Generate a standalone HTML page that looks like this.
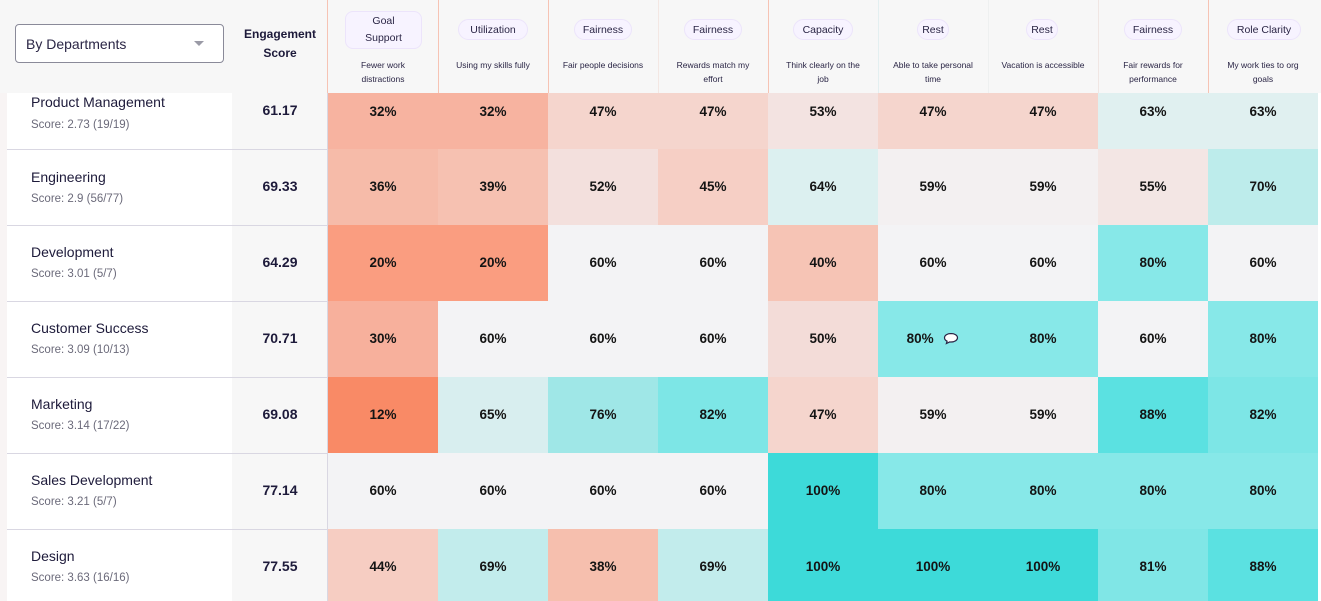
<!DOCTYPE html>
<html><head><meta charset="utf-8"><style>
*{margin:0;padding:0;box-sizing:border-box}
html,body{width:1321px;height:601px;overflow:hidden}
body{background:#fff;font-family:"Liberation Sans",sans-serif;color:#1d1a3a;position:relative}
.a{position:absolute}
.hdr{left:0;top:0;width:1321px;height:93px;background:#f7f7f7}
.vl{position:absolute;top:0;height:93px;width:1px;background:#f6c3b4}
.pill{position:absolute;background:#f7f3ff;border:1px solid #ece4fb;border-radius:11px;font-size:10.5px;color:#2a2545;text-align:center;line-height:20px;height:21px;top:19px}
.sub{position:absolute;top:58px;width:110px;font-size:8.5px;line-height:14px;text-align:center;color:#2a2545}
.nm{position:absolute;left:31px;font-size:14px;color:#1d1a3a}
.sc{position:absolute;left:31px;font-size:11.5px;color:#6b6a7a}
.eng{position:absolute;left:232px;width:96px;text-align:center;font-weight:bold;font-size:14px;background:#f7f7f7}
.c{position:absolute;width:110px;height:76px;text-align:center;font-size:13.5px;font-weight:bold;color:#141414;line-height:76px}
.sep{position:absolute;left:7px;width:321px;height:1px;background:#d9d7e2}
</style></head><body>
<div class="a" style="left:0;top:0;width:7px;height:601px;background:#f8f4f4"></div>
<div class="a" style="left:7px;top:93px;width:225px;height:508px;background:#fff"></div>
<div class="a" style="left:232px;top:93px;width:96px;height:508px;background:#f7f7f7"></div>

<!-- Product Management -->
<div class="c" style="left:328px;top:73px;background:#f7b3a0;line-height:78px">32%</div>
<div class="c" style="left:438px;top:73px;background:#f7b3a0;line-height:78px">32%</div>
<div class="c" style="left:548px;top:73px;background:#f5d5cd;line-height:78px">47%</div>
<div class="c" style="left:658px;top:73px;background:#f5d5cd;line-height:78px">47%</div>
<div class="c" style="left:768px;top:73px;background:#f3e3e1;line-height:78px">53%</div>
<div class="c" style="left:878px;top:73px;background:#f5d5cd;line-height:78px">47%</div>
<div class="c" style="left:988px;top:73px;background:#f5d5cd;line-height:78px">47%</div>
<div class="c" style="left:1098px;top:73px;background:#e0f0f0;line-height:78px">63%</div>
<div class="c" style="left:1208px;top:73px;background:#e0f0f0;line-height:78px">63%</div>
<div class="nm" style="top:94px">Product Management</div>
<div class="sc" style="top:119px">Score: 2.73 (19/19)</div>
<div class="eng" style="top:102px">61.17</div>

<!-- Engineering -->
<div class="c" style="left:328px;top:149px;background:#f6bba9">36%</div>
<div class="c" style="left:438px;top:149px;background:#f6c1b1">39%</div>
<div class="c" style="left:548px;top:149px;background:#f3e0dd">52%</div>
<div class="c" style="left:658px;top:149px;background:#f6cfc5">45%</div>
<div class="c" style="left:768px;top:149px;background:#dcf0f0">64%</div>
<div class="c" style="left:878px;top:149px;background:#f3f0f1">59%</div>
<div class="c" style="left:988px;top:149px;background:#f3f0f1">59%</div>
<div class="c" style="left:1098px;top:149px;background:#f3e6e4">55%</div>
<div class="c" style="left:1208px;top:149px;background:#bdeceb">70%</div>
<div class="nm" style="top:169px">Engineering</div>
<div class="sc" style="top:193px">Score: 2.9 (56/77)</div>
<div class="eng" style="top:178px">69.33</div>

<!-- Development -->
<div class="c" style="left:328px;top:225px;background:#fa9d80">20%</div>
<div class="c" style="left:438px;top:225px;background:#fa9d80">20%</div>
<div class="c" style="left:548px;top:225px;background:#f3f3f5">60%</div>
<div class="c" style="left:658px;top:225px;background:#f3f3f5">60%</div>
<div class="c" style="left:768px;top:225px;background:#f6c4b5">40%</div>
<div class="c" style="left:878px;top:225px;background:#f3f3f5">60%</div>
<div class="c" style="left:988px;top:225px;background:#f3f3f5">60%</div>
<div class="c" style="left:1098px;top:225px;background:#87e8e8">80%</div>
<div class="c" style="left:1208px;top:225px;background:#f3f3f5">60%</div>
<div class="nm" style="top:244px">Development</div>
<div class="sc" style="top:268px">Score: 3.01 (5/7)</div>
<div class="eng" style="top:254px">64.29</div>

<!-- Customer Success -->
<div class="c" style="left:328px;top:301px;background:#f7b09c">30%</div>
<div class="c" style="left:438px;top:301px;background:#f3f3f5">60%</div>
<div class="c" style="left:548px;top:301px;background:#f3f3f5">60%</div>
<div class="c" style="left:658px;top:301px;background:#f3f3f5">60%</div>
<div class="c" style="left:768px;top:301px;background:#f3dcd8">50%</div>
<div class="c" style="left:878px;top:301px;background:#87e8e8">80% <svg width="16" height="13" viewBox="0 0 16 13" style="vertical-align:-2px;margin-left:6px"><path d="M8 1.5C4.2 1.5 1.5 3.4 1.5 5.8c0 1.5 1 2.7 2.6 3.4L3.4 11.5l3.3-1.6c.4.1.9.1 1.3.1 3.8 0 6.5-1.9 6.5-4.200S11.8 1.5 8 1.5z" fill="#fff" stroke="#2a2545" stroke-width="1.2"/></svg></div>
<div class="c" style="left:988px;top:301px;background:#87e8e8">80%</div>
<div class="c" style="left:1098px;top:301px;background:#f3f3f5">60%</div>
<div class="c" style="left:1208px;top:301px;background:#87e8e8">80%</div>
<div class="nm" style="top:320px">Customer Success</div>
<div class="sc" style="top:344px">Score: 3.09 (10/13)</div>
<div class="eng" style="top:330px">70.71</div>

<!-- Marketing -->
<div class="c" style="left:328px;top:377px;background:#f98a66">12%</div>
<div class="c" style="left:438px;top:377px;background:#d8eeef">65%</div>
<div class="c" style="left:548px;top:377px;background:#9fe7e7">76%</div>
<div class="c" style="left:658px;top:377px;background:#7de6e6">82%</div>
<div class="c" style="left:768px;top:377px;background:#f5d5cd">47%</div>
<div class="c" style="left:878px;top:377px;background:#f3f0f1">59%</div>
<div class="c" style="left:988px;top:377px;background:#f3f0f1">59%</div>
<div class="c" style="left:1098px;top:377px;background:#5be1e1">88%</div>
<div class="c" style="left:1208px;top:377px;background:#7de6e6">82%</div>
<div class="nm" style="top:396px">Marketing</div>
<div class="sc" style="top:420px">Score: 3.14 (17/22)</div>
<div class="eng" style="top:406px">69.08</div>

<!-- Sales Development -->
<div class="c" style="left:328px;top:453px;background:#f3f3f5">60%</div>
<div class="c" style="left:438px;top:453px;background:#f3f3f5">60%</div>
<div class="c" style="left:548px;top:453px;background:#f3f3f5">60%</div>
<div class="c" style="left:658px;top:453px;background:#f3f3f5">60%</div>
<div class="c" style="left:768px;top:453px;background:#3ddad9">100%</div>
<div class="c" style="left:878px;top:453px;background:#87e8e8">80%</div>
<div class="c" style="left:988px;top:453px;background:#87e8e8">80%</div>
<div class="c" style="left:1098px;top:453px;background:#87e8e8">80%</div>
<div class="c" style="left:1208px;top:453px;background:#87e8e8">80%</div>
<div class="nm" style="top:472px">Sales Development</div>
<div class="sc" style="top:496px">Score: 3.21 (5/7)</div>
<div class="eng" style="top:482px">77.14</div>

<!-- Design -->
<div class="c" style="left:328px;top:529px;background:#f6cdc2">44%</div>
<div class="c" style="left:438px;top:529px;background:#c2ecec">69%</div>
<div class="c" style="left:548px;top:529px;background:#f6bfae">38%</div>
<div class="c" style="left:658px;top:529px;background:#c2ecec">69%</div>
<div class="c" style="left:768px;top:529px;background:#3ddad9">100%</div>
<div class="c" style="left:878px;top:529px;background:#3ddad9">100%</div>
<div class="c" style="left:988px;top:529px;background:#3ddad9">100%</div>
<div class="c" style="left:1098px;top:529px;background:#80e6e6">81%</div>
<div class="c" style="left:1208px;top:529px;background:#5be1e1">88%</div>
<div class="nm" style="top:548px">Design</div>
<div class="sc" style="top:572px">Score: 3.63 (16/16)</div>
<div class="eng" style="top:558px">77.55</div>

<div class="sep" style="top:149px"></div>
<div class="sep" style="top:225px"></div>
<div class="sep" style="top:301px"></div>
<div class="sep" style="top:377px"></div>
<div class="sep" style="top:453px"></div>
<div class="sep" style="top:529px"></div>
<div class="a" style="left:327px;top:0;width:1px;height:601px;background:#d9d7e2"></div>
<div class="a" style="left:1318px;top:0;width:3px;height:601px;background:#fff"></div>

<!-- header -->
<div class="a hdr">
  <div class="a" style="left:15px;top:24px;width:209px;height:39px;border:1px solid #8a8a99;border-radius:4px;background:#fff"></div>
  <div class="a" style="left:26px;top:36px;font-size:14px;color:#2a2545">By Departments</div>
  <div class="a" style="left:194px;top:41px;width:0;height:0;border-left:5px solid transparent;border-right:5px solid transparent;border-top:5px solid #9a9aa6"></div>
  <div class="a" style="left:232px;top:25px;width:96px;text-align:center;font-weight:bold;font-size:12px;line-height:19px;color:#1d1a3a">Engagement<br>Score</div>

  <div class="vl" style="left:327px"></div>
  <div class="vl" style="left:438px"></div>
  <div class="vl" style="left:548px"></div>
  <div class="vl" style="left:658px;background:#f3e7e3"></div>
  <div class="vl" style="left:768px"></div>
  <div class="vl" style="left:878px;background:#e3eff0"></div>
  <div class="vl" style="left:988px;background:#eef0f0"></div>
  <div class="vl" style="left:1098px;background:#f0e6e3"></div>
  <div class="vl" style="left:1208px;background:#f6c3b4"></div>

  <div class="pill" style="left:345px;top:11px;width:77px;height:38px;line-height:17px;border-radius:8px;padding-top:1px">Goal<br>Support</div>
  <div class="pill" style="left:458px;width:70px">Utilization</div>
  <div class="pill" style="left:574px;width:58px">Fairness</div>
  <div class="pill" style="left:684px;width:58px">Fairness</div>
  <div class="pill" style="left:793px;width:60px">Capacity</div>
  <div class="pill" style="left:917px;width:32px">Rest</div>
  <div class="pill" style="left:1026px;width:32px">Rest</div>
  <div class="pill" style="left:1124px;width:58px">Fairness</div>
  <div class="pill" style="left:1227px;width:74px">Role Clarity</div>

  <div class="sub" style="left:328px">Fewer work<br>distractions</div>
  <div class="sub" style="left:438px">Using my skills fully</div>
  <div class="sub" style="left:548px">Fair people decisions</div>
  <div class="sub" style="left:658px">Rewards match my<br>effort</div>
  <div class="sub" style="left:768px">Think clearly on the<br>job</div>
  <div class="sub" style="left:878px">Able to take personal<br>time</div>
  <div class="sub" style="left:988px">Vacation is accessible</div>
  <div class="sub" style="left:1098px">Fair rewards for<br>performance</div>
  <div class="sub" style="left:1208px">My work ties to org<br>goals</div>
</div>
</body></html>
